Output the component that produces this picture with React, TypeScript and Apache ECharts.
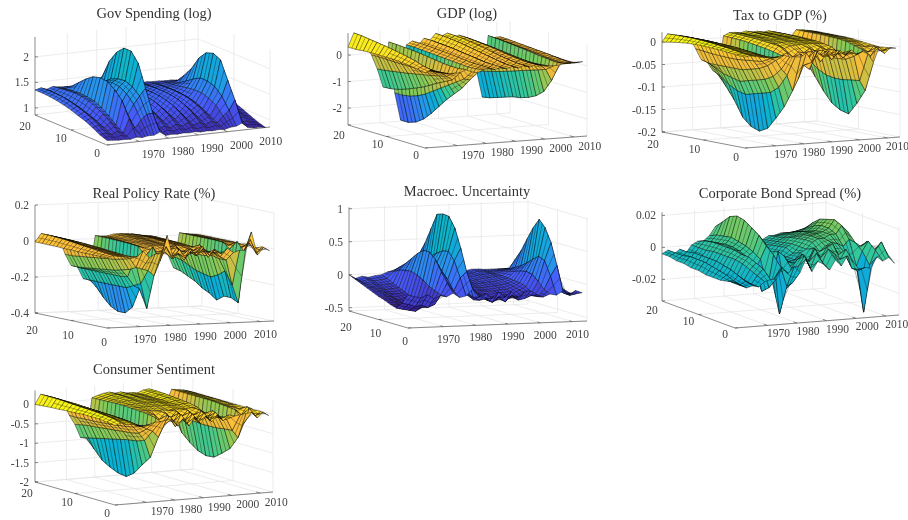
import React, { useEffect, useRef } from "react";
import * as echarts from "echarts";

const years = [1959,1961,1963,1965,1967,1969,1971,1973,1975,1977,1979,1981,1983,1985,1987,1989,1991,1993,1995,1997,1999,2001,2003,2005,2007,2009,2011,2013];
const horizons = [0,2,4,6,8,10,12,14,16,18,20];
const yearTicks = [1970,1980,1990,2000,2010];
const horizonTicks = [0,10,20];

const govValues = [
[.95,1,1.08,1.15,1.2,1.25,1.29,1.32,1.34,1.35,1.35],
[.94,1.02,1.12,1.2,1.26,1.31,1.35,1.38,1.39,1.39,1.38],
[.93,.98,1.05,1.12,1.18,1.23,1.27,1.3,1.32,1.33,1.34],
[.93,1.03,1.15,1.25,1.33,1.39,1.42,1.43,1.42,1.4,1.38],
[.92,.98,1.08,1.2,1.3,1.37,1.4,1.41,1.4,1.38,1.36],
[.95,1.25,1.55,1.7,1.8,1.82,1.78,1.68,1.55,1.42,1.35],
[.93,1.05,1.25,1.4,1.5,1.55,1.52,1.47,1.4,1.36,1.33],
[.95,1.2,1.45,1.6,1.68,1.7,1.66,1.58,1.48,1.4,1.34],
[.95,1.3,1.6,1.72,1.78,1.76,1.7,1.58,1.47,1.38,1.33],
[1,1.31,1.74,2.17,2.35,2.35,2.21,1.98,1.62,1.35,1.3],
[.92,.98,1.05,1.12,1.18,1.22,1.26,1.28,1.3,1.3,1.3],
[.93,1.03,1.15,1.24,1.3,1.33,1.35,1.36,1.35,1.34,1.32],
[.92,.98,1.06,1.14,1.2,1.24,1.27,1.29,1.3,1.3,1.3],
[.93,1.04,1.16,1.25,1.31,1.34,1.36,1.36,1.35,1.33,1.31],
[.92,.99,1.07,1.14,1.2,1.24,1.27,1.29,1.3,1.3,1.29],
[.93,1.05,1.17,1.26,1.31,1.34,1.35,1.35,1.34,1.32,1.3],
[.91,.98,1.06,1.13,1.19,1.23,1.26,1.28,1.29,1.29,1.28],
[.92,1.03,1.15,1.24,1.3,1.33,1.34,1.34,1.33,1.31,1.29],
[.91,.97,1.05,1.13,1.18,1.22,1.25,1.27,1.28,1.28,1.27],
[.92,1.02,1.14,1.22,1.28,1.31,1.32,1.32,1.31,1.29,1.27],
[.91,.98,1.06,1.14,1.2,1.24,1.26,1.27,1.27,1.27,1.26],
[.94,1.1,1.25,1.33,1.38,1.38,1.36,1.33,1.3,1.28,1.26],
[.95,1.2,1.42,1.55,1.6,1.6,1.52,1.42,1.33,1.28,1.25],
[1,1.39,1.72,2.06,2.13,2.08,1.92,1.66,1.47,1.3,1.25],
[.9,.95,1.02,1.1,1.16,1.2,1.23,1.25,1.25,1.25,1.24],
[.88,.95,1.05,1.14,1.2,1.23,1.25,1.26,1.25,1.24,1.23],
[.88,.92,.98,1.05,1.1,1.14,1.17,1.19,1.2,1.2,1.2],
[.86,.9,.96,1.02,1.08,1.12,1.15,1.17,1.18,1.18,1.18],
];

const gdpValues = [
[.2,.25,.3,.33,.35,.35,.35,.35,.33,.3,.3],
[.3,.35,.45,.52,.58,.63,.68,.72,.76,.8,.82],
[.2,.2,.22,.26,.3,.34,.38,.42,.46,.5,.52],
[.15,.12,.12,.14,.16,.18,.2,.22,.24,.25,.25],
[.1,.05,0,-.04,-.05,-.06,-.06,-.06,-.05,-.05,-.05],
[.1,-.1,-.17,-.24,-.3,-.36,-.42,-.47,-.52,-.57,-.6],
[.1,-.25,-.4,-.55,-.72,-.88,-1,-1.12,-1.22,-1.28,-1.3],
[.2,.16,.16,.18,.22,.26,.3,.33,.35,.37,.38],
[.1,-.25,-.45,-.65,-.85,-1.05,-1.25,-1.4,-1.5,-1.55,-1.55],
[.05,-.3,-.7,-1,-1.3,-1.65,-2,-2.3,-2.5,-2.6,-2.6],
[.15,.1,.08,.1,.12,.14,.16,.18,.2,.22,.22],
[.2,.2,.2,.22,.25,.28,.3,.32,.34,.35,.35],
[.12,.08,.06,.07,.09,.1,.12,.14,.15,.16,.16],
[.2,.2,.2,.24,.28,.31,.35,.38,.4,.42,.42],
[.12,.08,.1,.13,.17,.2,.24,.28,.3,.32,.32],
[.2,.2,.25,.3,.35,.4,.45,.5,.53,.56,.57],
[.12,.1,.13,.17,.22,.27,.32,.37,.4,.43,.45],
[.2,.2,.24,.28,.33,.39,.44,.48,.52,.54,.55],
[.12,.1,.12,.16,.2,.24,.28,.32,.35,.37,.38],
[.2,.18,.2,.23,.27,.31,.35,.38,.41,.43,.44],
[.15,.12,.14,.17,.2,.24,.27,.3,.32,.34,.35],
[.12,.08,.06,.06,.07,.08,.08,.08,.08,.08,.08],
[.1,-.12,-.22,-.32,-.42,-.52,-.62,-.72,-.8,-.88,-.94],
[.12,-.55,-1.05,-1.3,-1.45,-1.55,-1.6,-1.7,-1.8,-1.9,-1.96],
[.15,.1,.12,.15,.18,.22,.25,.28,.3,.33,.34],
[.15,.06,.08,.1,.14,.16,.18,.2,.22,.24,.25],
[.16,.08,.1,.13,.16,.18,.2,.22,.24,.26,.27],
[.18,.05,.03,.04,.05,.07,.08,.09,.1,.1,.1],
];

const taxValues = [
[.002,.003,.005,.007,.008,.009,.009,.008,.006,.003,0],
[.004,.006,.009,.012,.014,.016,.017,.018,.018,.018,.017],
[.002,.003,.005,.008,.01,.012,.013,.014,.014,.014,.013],
[0,.002,.004,.006,.008,.01,.011,.012,.012,.012,.012],
[-.003,-.001,.002,.004,.006,.007,.008,.009,.009,.009,.009],
[-.004,-.004,-.002,0,.002,.003,.004,.005,.005,.005,.005],
[-.002,-.01,-.02,-.022,-.024,-.026,-.026,-.025,-.024,-.022,-.02],
[0,-.015,-.03,-.04,-.045,-.05,-.05,-.05,-.05,-.05,-.045],
[-.005,-.035,-.055,-.065,-.07,-.075,-.08,-.075,-.07,-.06,-.05],
[-.005,-.05,-.08,-.095,-.1,-.105,-.11,-.105,-.095,-.08,-.07],
[-.007,-.085,-.124,-.153,-.179,-.189,-.182,-.165,-.131,-.104,-.08],
[.002,-.06,-.02,-.015,-.01,-.006,-.003,0,.002,.003,.004],
[-.02,-.03,-.05,-.01,.002,.004,.006,.008,.009,.01,.01],
[.004,-.04,-.01,-.02,-.005,.003,.006,.008,.009,.01,.01],
[-.01,0,-.025,-.01,0,.004,.006,.007,.008,.008,.008],
[.002,-.025,-.006,-.012,.001,.005,.007,.009,.01,.011,.011],
[-.012,-.003,-.02,-.004,.002,.005,.006,.007,.008,.008,.008],
[.002,-.022,-.005,-.01,.002,.005,.007,.008,.009,.009,.009],
[-.01,-.002,-.018,-.003,.002,.004,.005,.006,.006,.006,.006],
[.001,-.02,-.006,-.009,.001,.004,.006,.007,.008,.008,.008],
[-.01,-.006,-.016,-.004,0,.003,.004,.005,.005,.005,.005],
[-.004,-.018,-.028,-.03,-.03,-.028,-.024,-.018,-.012,-.006,-.002],
[-.01,-.073,-.075,-.078,-.078,-.075,-.065,-.05,-.03,-.012,-.003],
[-.03,-.096,-.128,-.155,-.15,-.138,-.115,-.087,-.06,-.03,-.01],
[.003,-.02,-.01,-.004,.002,.004,.005,.006,.006,.006,.006],
[-.012,-.002,-.016,-.006,0,.003,.004,.005,.005,.005,.005],
[0,-.012,-.004,-.008,-.002,.002,.003,.003,.003,.003,.003],
[-.002,-.004,-.006,-.004,-.002,0,.001,.001,.001,.001,.001],
];

const rateValues = [
[-.01,-.01,-.01,-.01,-.01,-.008,-.008,-.006,-.006,-.005,-.005],
[0,.005,.01,.015,.02,.025,.03,.035,.038,.04,.04],
[-.005,0,.005,.01,.012,.016,.02,.024,.027,.03,.03],
[-.01,-.005,0,.004,.008,.012,.016,.018,.02,.022,.022],
[-.01,-.01,-.005,-.002,.002,.005,.008,.01,.012,.012,.012],
[-.01,-.03,-.04,-.05,-.055,-.06,-.065,-.07,-.075,-.08,-.08],
[.02,-.08,-.1,-.11,-.12,-.125,-.13,-.135,-.14,-.145,-.144],
[-.02,-.09,-.04,-.15,-.155,-.155,-.155,-.155,-.155,-.155,-.15],
[0,-.1,-.18,-.2,-.22,-.22,-.22,-.22,-.22,-.22,-.22],
[0,-.13,-.32,-.22,-.33,-.37,-.37,-.35,-.31,-.26,-.21],
[.1,-.05,.02,-.04,.005,.01,.012,.014,.015,.016,.016],
[-.03,.03,-.05,-.01,-.005,0,.005,.008,.01,.012,.012],
[.02,-.04,-.01,-.02,.005,.008,.01,.012,.012,.012,.012],
[-.03,-.01,-.04,-.01,.005,.01,.014,.018,.02,.02,.02],
[.01,-.05,.01,-.01,.005,.01,.014,.018,.02,.022,.022],
[-.02,.01,-.03,.01,-.005,.005,.01,.014,.018,.02,.02],
[.02,-.03,-.01,-.025,.005,.008,.012,.016,.018,.018,.018],
[-.02,.02,-.03,-.01,0,.004,.008,.01,.012,.012,.012],
[.01,-.04,.01,-.02,-.005,0,.004,.006,.006,.006,.006],
[-.015,0,-.03,.01,-.01,-.005,-.002,0,.002,.004,.004],
[.015,-.04,-.02,-.03,-.025,-.02,-.02,-.02,-.02,-.02,-.02],
[-.01,-.06,-.06,-.05,-.06,-.06,-.06,-.06,-.06,-.05,-.05],
[0,-.2,-.13,-.16,-.18,-.17,-.16,-.14,-.12,-.11,-.1],
[0,-.3,-.28,-.28,-.31,-.28,-.26,-.23,-.21,-.19,-.18],
[.1,-.02,.03,-.02,.01,.012,.012,.012,.012,.012,.012],
[-.03,.05,-.03,.015,-.01,0,.005,.006,.006,.006,.006],
[.01,-.03,.02,-.015,.005,0,.002,.002,.002,.002,.002],
[-.008,.005,-.01,.004,-.004,0,0,0,0,0,0],
];

const uncValues = [
[-.05,-.2,-.3,-.27,-.23,-.2,-.16,-.12,-.08,-.04,0],
[-.08,-.22,-.32,-.28,-.24,-.2,-.16,-.13,-.1,-.08,-.06],
[-.1,-.26,-.34,-.31,-.27,-.22,-.18,-.14,-.1,-.06,-.03],
[-.06,-.24,-.36,-.33,-.29,-.26,-.2,-.16,-.12,-.08,-.05],
[-.12,-.28,-.3,-.32,-.27,-.24,-.2,-.15,-.11,-.07,-.03],
[-.08,-.24,-.28,-.28,-.26,-.22,-.18,-.14,-.1,-.05,-.02],
[-.1,-.1,-.06,-.02,.05,.1,.13,.12,.1,.05,.02],
[-.05,.08,.22,.38,.47,.47,.4,.3,.2,.12,.04],
[-.12,-.05,.1,.2,.28,.3,.28,.22,.15,.08,.02],
[-.1,.15,.38,.5,.48,.42,.35,.25,.15,.08,.02],
[0,.24,.57,.85,1,1.01,.98,.74,.5,.31,.1],
[-.12,-.15,-.1,-.05,-.02,-.02,-.05,-.08,-.1,-.12,-.12],
[-.08,-.2,-.22,-.18,-.15,-.14,-.14,-.14,-.14,-.14,-.14],
[-.15,-.18,-.18,-.13,-.1,-.1,-.1,-.11,-.12,-.13,-.14],
[-.06,-.24,-.23,-.18,-.14,-.12,-.11,-.1,-.1,-.1,-.1],
[-.14,-.16,-.26,-.2,-.15,-.12,-.1,-.09,-.09,-.09,-.09],
[-.06,-.24,-.22,-.22,-.16,-.13,-.1,-.08,-.07,-.07,-.06],
[-.16,-.14,-.24,-.18,-.16,-.12,-.09,-.07,-.05,-.04,-.03],
[-.08,-.22,-.2,-.2,-.14,-.11,-.08,-.05,-.03,-.02,-.01],
[-.06,-.2,-.22,-.18,-.14,-.1,-.07,-.04,-.02,0,.01],
[-.12,-.16,-.16,-.13,-.1,-.08,-.05,-.03,-.01,0,.01],
[-.16,-.18,-.15,-.08,-.05,-.04,-.03,-.02,-.02,-.01,0],
[-.12,-.08,.02,.1,.12,.1,.07,.04,.02,0,0],
[-.14,.12,.33,.37,.3,.22,.15,.1,.05,.02,0],
[-.08,.28,.6,.8,.9,.75,.56,.36,.2,.03,0],
[-.14,-.14,-.12,-.08,-.08,-.06,-.05,-.05,-.05,-.04,-.03],
[-.08,-.18,-.16,-.1,-.07,-.08,-.1,-.08,-.06,-.05,-.04],
[-.12,-.16,-.18,-.15,-.13,-.12,-.12,-.12,-.12,-.12,-.12],
];

const spreadValues = [
[-.005,-.006,-.007,-.007,-.007,-.006,-.006,-.005,-.005,-.004,-.004],
[-.007,-.006,-.004,-.003,-.002,-.001,-.001,-.001,-.002,-.002,-.002],
[-.009,-.009,-.009,-.008,-.008,-.007,-.007,-.006,-.006,-.005,-.005],
[-.008,-.007,-.005,-.003,-.002,-.001,-.001,-.001,-.001,-.002,-.002],
[-.009,-.009,-.008,-.007,-.006,-.005,-.005,-.005,-.005,-.005,-.005],
[-.006,-.004,-.002,0,.001,.001,.001,.001,0,0,0],
[-.005,0,.002,.004,.004,.005,.005,.005,.005,.004,.002],
[-.005,-.012,-.016,-.005,.002,.004,.005,.005,.004,.003,.002],
[.002,-.006,-.014,.002,.005,.007,.008,.009,.008,.007,.005],
[-.002,0,.006,.01,.015,.018,.021,.022,.02,.015,.0103],
[.002,-.012,-.031,-.012,.01,.013,.014,.012,.01,.007,.005],
[-.002,-.01,-.016,.006,.004,.003,.002,0,-.002,-.003,-.003],
[.006,0,-.003,.003,0,-.002,-.003,-.004,-.004,-.004,-.004],
[-.002,.006,.002,-.004,.001,-.002,-.003,-.003,-.004,-.005,-.005],
[.004,-.002,.005,-.002,-.003,-.003,-.003,-.004,-.004,-.004,-.004],
[.002,.007,0,.003,-.002,-.002,-.002,-.003,-.003,-.003,-.003],
[-.002,.001,.008,-.002,.002,0,.002,.001,0,-.001,-.002],
[.004,.009,.002,.006,.004,.004,.004,.003,.002,.001,0],
[0,.006,.008,.004,.008,.008,.007,.006,.004,.003,.002],
[.006,.002,.01,.007,.01,.01,.009,.007,.006,.004,.002],
[.002,.008,.003,.009,.01,.011,.01,.009,.007,.005,.003],
[-.003,-.004,.004,.008,.012,.012,.011,.009,.007,.005,.003],
[-.002,-.006,-.004,.006,.012,.014,.014,.012,.009,.006,.003],
[-.003,-.032,-.005,.01,.017,.019,.0175,.016,.012,.007,.003],
[.004,-.003,.004,.008,.013,.015,.014,.012,.01,.006,.003],
[.001,.006,.01,.005,.003,.004,.003,.003,.002,.001,0],
[.003,.011,.004,.008,.002,.001,0,0,-.001,-.001,-.001],
[-.001,.003,.007,.002,.002,0,-.001,-.001,-.002,-.002,-.002],
];

const sentValues = [
[.05,.08,.1,.1,.1,.08,.07,.05,.04,.02,0],
[.1,.16,.18,.2,.21,.22,.23,.24,.25,.25,.25],
[.05,.1,.12,.14,.15,.16,.17,.18,.19,.2,.2],
[.05,.08,.1,.11,.12,.13,.14,.15,.15,.15,.15],
[0,.04,.05,.06,.07,.07,.08,.08,.08,.08,.08],
[-.05,-.05,-.02,0,0,0,0,0,0,0,0],
[0,-.1,-.18,-.22,-.25,-.28,-.3,-.32,-.33,-.35,-.35],
[.05,-.18,-.35,-.4,-.42,-.45,-.47,-.5,-.52,-.55,-.6],
[.05,-.25,-.55,-.62,-.65,-.7,-.75,-.8,-.85,-.9,-.95],
[.08,-.42,-1,-1.25,-1.52,-1.67,-1.64,-1.55,-1.43,-1.2,-.97],
[.1,-.12,0,.04,.06,.07,.08,.08,.07,.06,.05],
[-.1,.1,-.2,.02,.06,.08,.09,.1,.1,.1,.1],
[.08,-.18,.05,-.12,.04,.08,.1,.12,.13,.14,.14],
[-.12,.12,-.15,.04,.03,.08,.11,.13,.15,.16,.16],
[.1,-.14,.08,-.1,.04,.08,.1,.11,.12,.12,.12],
[-.08,.1,-.14,.06,.02,.07,.1,.12,.13,.14,.14],
[.1,-.12,.08,-.08,.04,.08,.1,.1,.1,.1,.1],
[-.06,.1,-.12,.06,.03,.06,.08,.09,.1,.1,.1],
[.1,-.1,.08,-.08,.03,.06,.07,.08,.08,.08,.08],
[-.06,.1,-.1,.05,.04,.08,.1,.12,.13,.14,.14],
[.08,-.08,.07,-.06,.05,.09,.11,.13,.15,.16,.16],
[.04,-.1,-.12,-.12,-.12,-.12,-.1,-.1,-.08,-.06,-.05],
[.06,-.4,-.42,-.45,-.46,-.46,-.44,-.42,-.38,-.32,-.25],
[.08,-.6,-.94,-1.12,-1.28,-1.3,-1.23,-1.08,-.89,-.5,-.25],
[.1,-.25,.04,.06,.08,.1,.1,.1,.1,.1,.1],
[-.06,.12,-.1,.04,.04,.06,.07,.08,.08,.08,.08],
[.08,-.08,.1,-.02,.04,.05,.06,.06,.06,.06,.06],
[-.02,.03,.02,.02,.02,.02,.02,.02,.02,.02,.02],
];

const T0 = 1959, T1 = 2014.5;

type Panel = {
  title: string; tx: number; ty: number; values: number[][];
  F: number[]; L: number[]; R: number[];
  zFloor: number; zTop: number; zScale: number;
  zTicks: number[]; zLabels: string[]; clim: number[];
  yearOff: number[]; hOff: number[];
};

const panels: Panel[] = [
  { title: "Gov Spending (log)", tx: 154, ty: 5, values: govValues, F: [107,145], L: [35,115], R: [270,127], zFloor: .86, zTop: 2.39, zScale: 51, zTicks: [1,1.5,2], zLabels: ["1","1.5","2"], clim: [.85,3.88], yearOff: [14,13], hOff: [-10,8] },
  { title: "GDP (log)", tx: 467, ty: 5, values: gdpValues, F: [425,148], L: [348,125], R: [587,136], zFloor: -2.64, zTop: .83, zScale: 26.5, zTicks: [-2,-1,0], zLabels: ["-2","-1","0"], clim: [-2.58,.645], yearOff: [16,9], hOff: [-9,7] },
  { title: "Tax to GDP (%)", tx: 780, ty: 7, values: taxValues, F: [745,148], L: [662,132], R: [900,137], zFloor: -.2, zTop: .022, zScale: 450, zTicks: [-.2,-.15,-.1,-.05,0], zLabels: ["-0.2","-0.15","-0.1","-0.05","0"], clim: [-.224,.0143], yearOff: [10,8], hOff: [-9,9] },
  { title: "Real Policy Rate (%)", tx: 154, ty: 185, values: rateValues, F: [107,328], L: [35,313], R: [274,321], zFloor: -.4, zTop: .2, zScale: 180, zTicks: [-.4,-.2,0,.2], zLabels: ["-0.4","-0.2","0","0.2"], clim: [-.405,.071], yearOff: [5,12], hOff: [-3,14] },
  { title: "Macroec. Uncertainty", tx: 467, ty: 183, values: uncValues, F: [408,328], L: [349,311], R: [587,321], zFloor: -.55, zTop: 1.02, zScale: 66, zTicks: [-.5,0,.5,1], zLabels: ["-0.5","0","0.5","1"], clim: [-.316,2.316], yearOff: [5,12], hOff: [-3,13] },
  { title: "Corporate Bond Spread (%)", tx: 780, ty: 185, values: spreadValues, F: [735,328], L: [662,301], R: [899,315], zFloor: -.0335, zTop: .022, zScale: 1600, zTicks: [-.02,0,.02], zLabels: ["-0.02","0","0.02"], clim: [-.045,.055], yearOff: [11,8], hOff: [-10,6] },
  { title: "Consumer Sentiment", tx: 154, ty: 361, values: sentValues, F: [115,505], L: [35,482], R: [273,492], zFloor: -2, zTop: .36, zScale: 38.8, zTicks: [-2,-1.5,-1,-.5,0], zLabels: ["-2","-1.5","-1","-0.5","0"], clim: [-2,.174], yearOff: [16,9], hOff: [-8,8] },
];

const parula = [[62,38,168],[71,91,249],[39,150,235],[10,177,210],[55,200,151],[130,202,90],[231,188,60],[253,190,60],[249,251,20]];
function parulaColor(c: number) {
  const v = Math.max(0, Math.min(.9999, c)) * (parula.length - 1);
  const i = Math.floor(v), f = v - i;
  const a = parula[i], b = parula[i + 1];
  return `rgb(${a.map((x, k) => Math.round(x + (b[k] - x) * f)).join(",")})`;
}

function project(p: Panel, t: number, h: number, z: number) {
  const u = (t - T0) / (T1 - T0), w = h / 20;
  return [
    p.F[0] + u * (p.R[0] - p.F[0]) + w * (p.L[0] - p.F[0]),
    p.F[1] + u * (p.R[1] - p.F[1]) + w * (p.L[1] - p.F[1]) - (z - p.zFloor) * p.zScale,
  ];
}

const GRID = "#e4e4e4", AXIS = "#5a5a5a", LABEL = "#444", EDGE = "rgba(0,0,0,0.9)";

function frameSeries(p: Panel, idx: number) {
  return {
    type: "custom", coordinateSystem: "cartesian2d", silent: true, clip: false, z: 1,
    data: [[idx]],
    renderItem: (_: any, api: any) => {
      const pt = (t: number, h: number, z: number) => api.coord(project(p, t, h, z));
      const seg = (a: number[], b: number[], color: string, w = .7) => ({
        type: "line", silent: true,
        shape: { x1: a[0], y1: a[1], x2: b[0], y2: b[1] },
        style: { stroke: color, lineWidth: w },
      });
      const txt = (s: string, at: number[], align: string) => ({
        type: "text", silent: true, x: at[0], y: at[1],
        style: { text: s, fill: LABEL, fontFamily: "Liberation Serif", fontSize: 11.5, align, verticalAlign: "middle" },
      });
      const kids: any[] = [];
      for (const z of p.zTicks) {
        kids.push(seg(pt(T0, 20, z), pt(T1, 20, z), GRID));
        kids.push(seg(pt(T1, 20, z), pt(T1, 0, z), GRID));
      }
      for (const y of yearTicks) {
        kids.push(seg(pt(y, 20, p.zFloor), pt(y, 20, p.zTop), GRID));
        kids.push(seg(pt(y, 0, p.zFloor), pt(y, 20, p.zFloor), GRID));
      }
      for (const h of horizonTicks) {
        kids.push(seg(pt(T1, h, p.zFloor), pt(T1, h, p.zTop), GRID));
        kids.push(seg(pt(T0, h, p.zFloor), pt(T1, h, p.zFloor), GRID));
      }
      kids.push(seg(pt(T0, 20, p.zFloor), pt(T0, 20, p.zTop), AXIS));
      kids.push(seg(pt(T0, 20, p.zFloor), pt(T0, 0, p.zFloor), AXIS));
      kids.push(seg(pt(T0, 0, p.zFloor), pt(T1, 0, p.zFloor), AXIS));
      p.zTicks.forEach((z, i) => {
        const a = pt(T0, 20, z);
        kids.push(seg(a, [a[0] + 3, a[1]], AXIS));
        kids.push(txt(p.zLabels[i], [a[0] - 6, a[1]], "right"));
      });
      for (const y of yearTicks) {
        const a = pt(y, 0, p.zFloor);
        kids.push(seg(a, pt(y, 1, p.zFloor), AXIS));
        kids.push(txt(String(y), [a[0] + p.yearOff[0], a[1] + p.yearOff[1]], "center"));
      }
      for (const h of horizonTicks) {
        const a = pt(T0, h, p.zFloor);
        kids.push(seg(a, pt(T0 + 1, h, p.zFloor), AXIS));
        const extra = h === 20 ? 3 : 0;
        kids.push(txt(String(h), [a[0] + p.hOff[0], a[1] + p.hOff[1] + extra], "center"));
      }
      return { type: "group", children: kids };
    },
  };
}

function surfaceSeries(p: Panel) {
  const cells: number[][] = [];
  for (let j = years.length - 2; j >= 0; j--) {
    for (let i = horizons.length - 2; i >= 0; i--) cells.push([j, i]);
  }
  return {
    type: "custom", coordinateSystem: "cartesian2d", silent: true, clip: false, z: 2,
    progressive: 0, animation: false,
    data: cells,
    renderItem: (_: any, api: any) => {
      const j = api.value(0), i = api.value(1);
      const corners = [[j, i], [j + 1, i], [j + 1, i + 1], [j, i + 1]];
      const zs = corners.map(([a, b]) => p.values[a][b]);
      const mean = zs.reduce((s, v) => s + v, 0) / 4;
      const pts = corners.map(([a, b], k) => api.coord(project(p, years[a], horizons[b], zs[k])));
      const mid = (a: number[], b: number[]) => [(a[0] + b[0]) / 2, (a[1] + b[1]) / 2];
      const hatch = (a: number[], b: number[]) => ({
        type: "line", silent: true,
        shape: { x1: a[0], y1: a[1], x2: b[0], y2: b[1] },
        style: { stroke: EDGE, lineWidth: .35 },
      });
      const children: any[] = [{
        type: "polygon", silent: true,
        shape: { points: pts },
        style: {
          fill: parulaColor((mean - p.clim[0]) / (p.clim[1] - p.clim[0])),
          stroke: EDGE, lineWidth: .45,
        },
      }];
      children.push(hatch(mid(pts[0], pts[3]), mid(pts[1], pts[2])));
      const tall = Math.abs(pts[0][1] - pts[1][1]) > 9 || Math.abs(pts[3][1] - pts[2][1]) > 9;
      if (!tall) children.push(hatch(mid(pts[0], pts[1]), mid(pts[3], pts[2])));
      return { type: "group", children };
    },
  };
}

export default function App() {
  const ref = useRef<HTMLDivElement>(null);
  useEffect(() => {
    const chart = echarts.init(ref.current!, undefined, { renderer: "svg" });
    chart.setOption({
      animation: false,
      backgroundColor: "#fff",
      title: panels.map((p) => ({
        text: p.title, left: p.tx, top: p.ty, textAlign: "center", padding: 0,
        textStyle: { fontFamily: "Liberation Serif", fontSize: 14.5, fontWeight: "normal", color: "#333" },
      })),
      grid: { left: 0, right: 0, top: 0, bottom: 0 },
      xAxis: { type: "value", min: 0, max: 908, show: false },
      yAxis: { type: "value", min: 0, max: 520, inverse: true, show: false },
      series: panels.flatMap((p, i) => [frameSeries(p, i), surfaceSeries(p)]),
    });
    return () => chart.dispose();
  }, []);
  return <div ref={ref} style={{ position: "fixed", left: 0, top: 0, width: 908, height: 520, filter: "blur(0.3px)" }} />;
}
